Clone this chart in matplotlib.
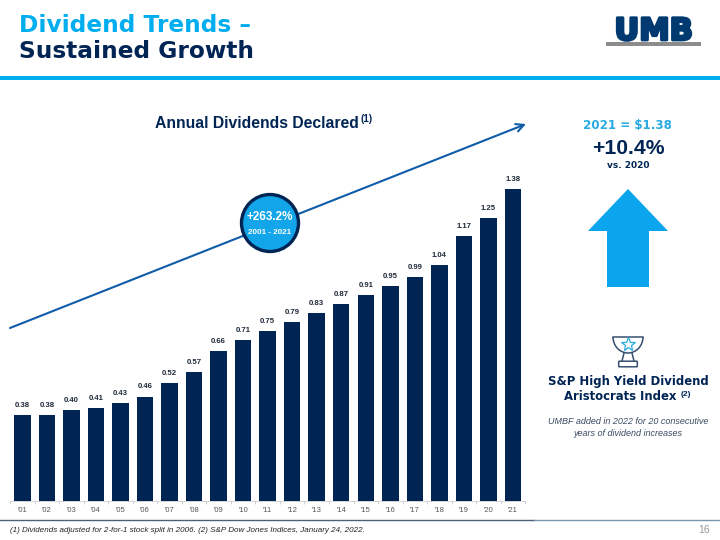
import matplotlib
matplotlib.use("Agg")
import matplotlib.pyplot as plt
import matplotlib.patheffects as pe
from matplotlib.patches import Circle, Polygon, Rectangle, FancyBboxPatch, Arc

years = ["'01", "'02", "'03", "'04", "'05", "'06", "'07", "'08", "'09", "'10", "'11",
         "'12", "'13", "'14", "'15", "'16", "'17", "'18", "'19", "'20", "'21"]
dividends = [0.38, 0.38, 0.40, 0.41, 0.43, 0.46, 0.52, 0.57, 0.66, 0.71, 0.75,
             0.79, 0.83, 0.87, 0.91, 0.95, 0.99, 1.04, 1.17, 1.25, 1.38]

NAVY = "#002554"
CYAN = "#00ADEF"
LIGHT = "#29ABE2"
BLUE = "#0F5CA8"
ICON = "#37506F"

plt.rcParams["font.family"] = ["Liberation Sans", "DejaVu Sans"]

fig = plt.figure(figsize=(7.2, 5.4), dpi=100)
W, H = 720, 540

# Bars
ax = fig.add_axes([10.05 / W, 1 - 500.5 / H, 515.2 / W, 340 / H])
x = list(range(len(years)))
ax.bar(x, dividends, width=0.67, color=NAVY)
ax.set_xlim(-0.5, 20.5)
ax.set_ylim(0, 340 / 226)
for i, v in zip(x, dividends):
    ax.text(i, v + 0.027, f"{v:.2f}", ha="center", va="bottom", fontsize=5.6,
            fontweight="bold", color="#1f2a3a")
ax.set_xticks(x)
ax.set_xticklabels(years, fontsize=5.5, color="#555555")
ax.set_xticks([i - 0.5 for i in range(22)], minor=True)
ax.tick_params(axis="x", which="major", length=0, pad=5)
ax.tick_params(axis="x", which="minor", length=2, width=0.5, color="#bbbbbb", direction="out")
ax.set_yticks([])
for s in ["top", "left", "right"]:
    ax.spines[s].set_visible(False)
ax.spines["bottom"].set_color("#cccccc")
ax.spines["bottom"].set_linewidth(0.6)
ax.patch.set_alpha(0)

# Slide furniture in pixel coordinates
ov = fig.add_axes([0, 0, 1, 1], zorder=5)
ov.set_xlim(0, W)
ov.set_ylim(H, 0)
ov.axis("off")

ov.text(19, 25, "Dividend Trends –", fontsize=16.75, fontweight="bold", color=CYAN,
        family="DejaVu Sans", va="center")
ov.text(19, 51, "Sustained Growth", fontsize=16.75, fontweight="bold", color=NAVY,
        family="DejaVu Sans", va="center")
ov.add_patch(Rectangle((0, 76), W, 4, color=CYAN, lw=0))

# Logo
ov.text(653.5, 40, "UMB", fontsize=22, fontweight="bold", color="#003A70", ha="center",
        va="baseline", family="DejaVu Sans",
        path_effects=[pe.withStroke(linewidth=2, foreground="#003A70")])
ov.add_patch(Rectangle((606, 41.5), 95, 4, color="#8C8C8C", lw=0))

# Title and trend arrow
ov.text(155, 124, "Annual Dividends Declared", fontsize=11.3, fontweight="bold", color=NAVY, va="center")
ov.text(367, 119.5, "(1)", fontsize=7, fontweight="bold", color=NAVY, ha="center", va="center")
ov.annotate("", xy=(526, 124), xytext=(10, 328),
            arrowprops=dict(arrowstyle="->", color=BLUE, lw=1.5, mutation_scale=14, shrinkA=0, shrinkB=0))

# Callout
ov.add_patch(Circle((270, 223), 28.5, facecolor="#12A5EA", edgecolor=NAVY, lw=2.4, zorder=6))
ov.text(270, 216.5, "+263.2%", fontsize=8.4, fontweight="bold", color="white", ha="center", va="center", zorder=7)
ov.text(270, 232, "2001 - 2021", fontsize=5.8, fontweight="bold", color="white", ha="center", va="center", zorder=7)

# Right panel
ov.text(627.5, 125, "2021 = $1.38", fontsize=8.6, fontweight="bold", color=LIGHT, ha="center", va="center",
        family="DejaVu Sans")
ov.text(628, 148, "+10.4%", fontsize=15.2, fontweight="bold", color=NAVY, ha="center", va="center")
ov.text(628, 165, "vs. 2020", fontsize=6.5, fontweight="bold", color=NAVY, ha="center", va="center",
        family="DejaVu Sans")
ov.add_patch(Polygon([(628, 189), (668, 231), (649, 231), (649, 287), (607, 287), (607, 231), (588, 231)],
                     closed=True, facecolor="#0AA5EC", edgecolor="none"))

# Trophy icon
ov.add_patch(Arc((628, 337), 30, 32, theta1=0, theta2=180, color=ICON, lw=1.1))
ov.plot([613, 643], [337, 337], color=ICON, lw=1.1)
ov.plot([624, 622], [353, 361], color=ICON, lw=1.1)
ov.plot([632, 634], [353, 361], color=ICON, lw=1.1)
ov.add_patch(FancyBboxPatch((619.5, 362), 17, 4, boxstyle="round,pad=0.8", fill=False, ec=ICON, lw=1.1))
ov.plot([628], [343.5], marker="*", ms=10.5, mfc="none", mec=LIGHT, mew=0.9)

ov.text(628, 382, "S&P High Yield Dividend", fontsize=8.4, fontweight="bold", color=NAVY,
        ha="center", va="center", family="DejaVu Sans")
ov.text(620.5, 397, "Aristocrats Index", fontsize=8.4, fontweight="bold", color=NAVY,
        ha="center", va="center", family="DejaVu Sans")
ov.text(686, 394.5, "(2)", fontsize=6, fontweight="bold", color=NAVY, ha="center", va="center")
ov.text(628, 422, "UMBF added in 2022 for 20 consecutive", fontsize=6.45, style="italic",
        color="#3A4A63", ha="center", va="center")
ov.text(628, 433, "years of dividend increases", fontsize=6.45, style="italic",
        color="#3A4A63", ha="center", va="center")

# Footer
ov.plot([0, 534], [520, 520], color="#4A6178", lw=1)
ov.plot([534, 720], [520, 520], color="#7A96AE", lw=1)
ov.text(10, 530, "(1) Dividends adjusted for 2-for-1 stock split in 2006. (2) S&P Dow Jones Indices, January 24, 2022.",
        fontsize=5.78, style="italic", color="#222222", va="center")
ov.text(704, 530, "16", fontsize=7.5, color="#999999", ha="center", va="center")

fig.savefig("out.png", dpi=100)
